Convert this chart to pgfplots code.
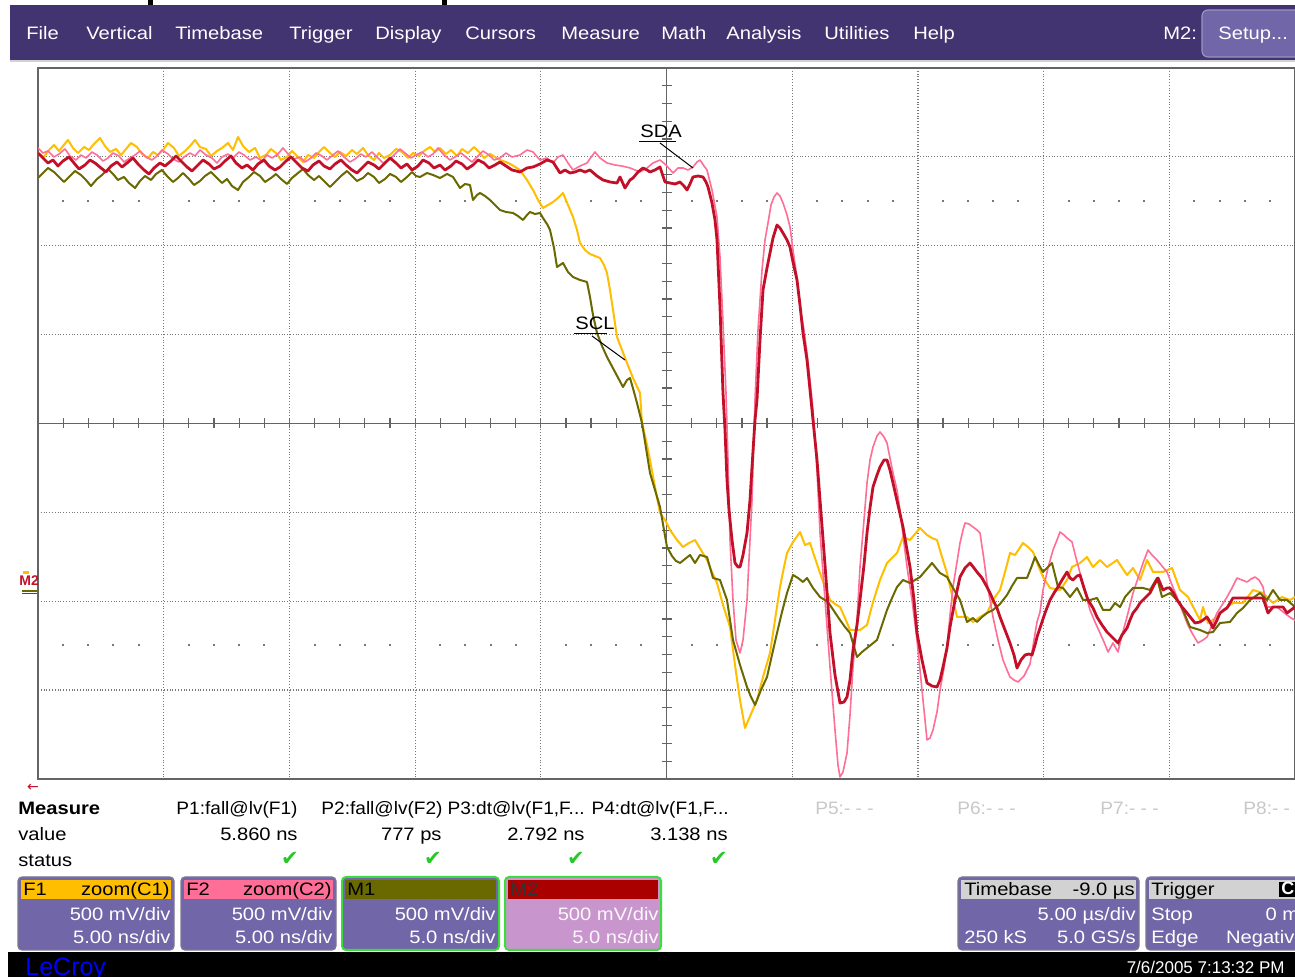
\documentclass[border=0pt]{standalone}
\usepackage{pgfplots}
\pgfplotsset{compat=1.18}
\usepackage{graphicx}
\usepackage{fontspec}
\setmainfont{Liberation Sans}
\newfontfamily\dejavu{DejaVu Sans}
\definecolor{menubar}{RGB}{66,52,112}
\definecolor{btn}{RGB}{112,102,168}
\definecolor{boxbody}{RGB}{112,102,168}
\definecolor{cF1}{RGB}{255,190,0}
\definecolor{cF2}{RGB}{255,110,150}
\definecolor{cM1}{RGB}{105,105,0}
\definecolor{cM2}{RGB}{195,15,40}
\definecolor{hM2}{RGB}{170,0,0}
\definecolor{m2body}{RGB}{200,150,205}
\definecolor{gridc}{RGB}{120,120,120}
\definecolor{framec}{RGB}{100,100,100}
\definecolor{okgreen}{RGB}{40,200,40}
\definecolor{boxgreen}{RGB}{60,220,60}
\definecolor{hdrgrey}{RGB}{210,210,210}
\definecolor{pgrey}{RGB}{200,200,200}
\newcommand\ui{\fontsize{9}{10}\selectfont}
\newcommand\sx[1]{\scalebox{1.12}[1]{#1}}
\newcommand\sxh[1]{\scalebox{1.06}[1]{#1}}
\begin{document}
\begin{tikzpicture}
\useasboundingbox (0,0) rectangle (647.5pt,488.5pt);
\fill[white] (0,0) rectangle (647.5pt,488.5pt);
\begin{scope}[x=0.5pt,y=-0.5pt,yshift=488.5pt, every node/.style={inner sep=0pt, font=\ui}]
 % top strip
 \fill[black] (148,0) rectangle (153,6);
 \fill[black] (442,0) rectangle (447,6);
 \fill[menubar] (10,5) rectangle (1295,60);
 \fill[gray!35] (10,60) rectangle (1295,62);
 \foreach \t/\x in {File/26,Vertical/86,Timebase/175,Trigger/289,Display/375,Cursors/465,Measure/561,Math/661,Analysis/726,Utilities/824,Help/913,M2:/1163}
   \node[anchor=base west, text=white] at (\x,40) {\sx{\t}};
 \draw[fill=btn, draw=btn!70!white, rounded corners=3pt, line width=0.6pt] (1202,10) rectangle (1310,57);
 \node[anchor=base west, text=white] at (1218,40) {\sx{Setup...}};
 % dotted rows at +-2.5 div
 \foreach \i in {1,...,49} {
   \pgfmathtruncatemacro\m{mod(\i,5)}
   \ifnum\m=0\relax\else
     \fill[gridc] ({38+25.14*\i-1},200) rectangle ++(2,2);
     \fill[gridc] ({38+25.14*\i-1},644) rectangle ++(2,2);
   \fi
 }
 % centre cross
 \draw[framec, line width=0.8pt] (38,423.5) -- (1295,423.5);
 \draw[framec, line width=0.8pt] (666.5,68) -- (666.5,779);
 \foreach \i in {1,...,49} \draw[framec, line width=0.6pt] ({38+25.14*\i},418.5) -- ++(0,10);
 \foreach \j in {1,...,39} \draw[framec, line width=0.6pt] (661.5,{68+17.775*\j}) -- ++(10,0);
\end{scope}

\begin{axis}[
  at={(19pt,99pt)}, anchor=south west,
  scale only axis, width=628.5pt, height=355.5pt,
  xmin=38, xmax=1295, ymin=68, ymax=779, y dir=reverse,
  xtick={163.7,289.4,415.1,540.8,792.2,917.9,1043.6,1169.3},
  ytick={156.9,245.75,334.6,512.4,601.25,690.1},
  xticklabels={}, yticklabels={}, major tick length=0pt,
  grid=major, major grid style={densely dotted, gridc, line width=0.6pt},
  axis line style={draw=framec, line width=1pt},
  clip=true,
]
% F1 (yellow)
\addplot[cF1, line width=1pt, line join=round] coordinates {(38,153)(44,157)(49,150)(54,145)(59,151)(63,146)(68,140)(73,148)(78,153)(84,147)(89,150)(94,144)(100,138)(105,146)(110,152)(116,149)(121,155)(126,149)(131,143)(137,147)(142,154)(148,158)(153,152)(158,155)(163,150)(168,143)(174,148)(179,156)(185,151)(190,146)(195,140)(200,147)(206,149)(211,156)(217,151)(222,148)(228,143)(233,150)(238,137)(243,146)(249,152)(255,148)(260,158)(266,155)(271,149)(276,153)(281,160)(287,157)(292,151)(298,157)(303,162)(308,155)(314,158)(319,152)(324,147)(330,153)(335,157)(340,152)(346,156)(352,150)(357,154)(363,148)(368,155)(374,160)(379,153)(384,158)(390,155)(396,149)(402,152)(408,158)(413,153)(419,156)(424,151)(430,147)(435,152)(440,148)(446,154)(451,150)(457,156)(462,149)(468,153)(474,147)(479,152)(484,158)(490,154)(495,157)(500,160)(506,162)(512,165)(520,170)(527,180)(533,190)(538,200)(543,208)(548,205)(553,202)(558,198)(563,193)(568,205)(573,217)(577,230)(580,243)(585,250)(590,254)(595,256)(600,258)(604,265)(607,273)(610,290)(613,310)(617,337)(622,350)(627,363)(633,378)(640,393)(642,423)(646,440)(650,460)(655,487)(660,513)(665,520)(670,530)(677,540)(683,547)(689,543)(695,540)(701,550)(707,560)(712,572)(717,583)(723,605)(730,627)(735,665)(740,700)(745,728)(751,714)(757,700)(763,677)(770,653)(775,620)(780,587)(784,567)(787,553)(793,542)(800,532)(805,545)(810,543)(815,558)(820,573)(825,587)(830,600)(835,604)(840,607)(845,618)(850,630)(855,630)(860,630)(867,625)(873,602)(880,580)(887,563)(892,558)(897,553)(903,537)(910,540)(915,534)(920,528)(927,535)(932,538)(937,540)(942,557)(947,573)(952,595)(957,617)(962,617)(967,617)(973,622)(980,617)(987,613)(993,600)(1000,590)(1005,572)(1010,553)(1015,555)(1019,549)(1023,543)(1028,547)(1033,552)(1038,565)(1043,577)(1050,588)(1060,590)(1067,580)(1072,567)(1080,563)(1087,557)(1093,567)(1100,560)(1107,567)(1117,560)(1127,575)(1133,568)(1140,580)(1147,560)(1153,572)(1163,572)(1172,568)(1180,590)(1188,597)(1200,620)(1203,607)(1208,623)(1217,617)(1223,610)(1233,603)(1243,603)(1253,590)(1263,593)(1273,603)(1282,597)(1290,600)(1295,597)};
% F2 (pink)
\addplot[cF2, line width=0.8pt, line join=round] coordinates {(38,148)(43,153)(48,151)(54,157)(59,154)(65,149)(70,156)(76,160)(81,155)(86,158)(92,152)(97,155)(103,161)(108,158)(113,153)(119,156)(124,162)(130,158)(135,155)(140,151)(146,157)(152,160)(157,156)(162,150)(168,154)(173,159)(179,162)(184,157)(190,153)(195,156)(200,150)(206,155)(212,158)(217,163)(222,157)(228,154)(233,158)(239,152)(244,155)(250,160)(256,157)(262,161)(267,155)(272,158)(278,154)(283,148)(289,155)(294,159)(300,157)(305,162)(311,158)(316,153)(322,156)(327,160)(333,155)(338,151)(344,157)(350,162)(355,159)(361,154)(366,157)(372,152)(378,158)(383,163)(389,160)(394,155)(400,149)(405,153)(411,158)(416,155)(422,152)(428,157)(433,154)(438,148)(444,155)(450,160)(455,157)(461,153)(467,158)(472,162)(478,156)(483,151)(489,155)(494,160)(500,158)(506,153)(512,157)(520,155)(527,150)(533,152)(540,160)(547,158)(553,163)(558,157)(563,155)(568,163)(573,170)(580,166)(587,163)(592,156)(595,152)(600,158)(607,163)(615,165)(622,166)(630,168)(635,170)(640,172)(647,168)(653,163)(660,160)(666,165)(673,173)(678,168)(683,168)(688,170)(693,167)(697,162)(700,160)(704,166)(707,170)(712,190)(717,217)(720,257)(723,323)(726,393)(728,460)(730,540)(733,600)(736,640)(740,653)(743,640)(747,600)(750,540)(752,500)(755,400)(758,330)(762,270)(765,240)(768,223)(771,205)(774,197)(777,193)(780,196)(783,203)(787,215)(790,227)(793,250)(797,278)(800,307)(804,330)(807,353)(810,380)(813,410)(817,470)(820,533)(825,600)(830,667)(835,730)(838,765)(840,777)(843,772)(847,753)(850,715)(853,667)(857,620)(860,567)(864,520)(867,483)(870,460)(873,447)(877,436)(880,432)(884,437)(887,443)(890,458)(893,473)(897,490)(900,510)(903,535)(907,567)(912,600)(917,640)(922,690)(927,740)(930,738)(933,730)(937,712)(940,690)(944,668)(947,647)(950,615)(953,587)(957,562)(960,543)(963,530)(965,523)(969,524)(973,527)(977,530)(980,533)(984,560)(987,583)(990,600)(993,617)(998,640)(1003,660)(1007,670)(1010,677)(1014,680)(1018,682)(1024,676)(1030,664)(1034,640)(1037,622)(1040,612)(1043,590)(1048,568)(1053,550)(1057,540)(1060,532)(1064,535)(1067,538)(1072,542)(1076,558)(1080,573)(1085,592)(1090,610)(1095,622)(1100,633)(1104,642)(1108,652)(1113,643)(1118,652)(1122,635)(1127,617)(1130,605)(1133,593)(1138,578)(1143,563)(1148,550)(1152,555)(1157,560)(1162,566)(1167,572)(1172,585)(1177,597)(1182,610)(1187,623)(1192,633)(1198,643)(1203,640)(1207,637)(1212,625)(1217,613)(1222,605)(1227,597)(1232,588)(1237,578)(1242,580)(1247,582)(1251,579)(1255,577)(1259,580)(1263,587)(1267,607)(1272,607)(1277,607)(1282,611)(1287,615)(1291,618)(1295,620)};
% M1 (olive)
\addplot[cM1, line width=1pt, line join=round] coordinates {(38,178)(43,173)(48,168)(54,172)(59,177)(64,182)(70,176)(75,171)(81,175)(86,180)(91,186)(97,179)(102,175)(108,169)(113,174)(118,180)(124,177)(129,183)(135,188)(140,181)(145,176)(151,180)(156,174)(162,170)(167,176)(173,182)(178,178)(183,173)(189,179)(194,185)(200,181)(205,176)(211,172)(216,177)(222,183)(227,179)(232,186)(238,190)(243,182)(249,177)(254,172)(260,176)(265,182)(271,178)(276,174)(281,179)(287,184)(292,178)(298,173)(303,169)(308,175)(314,180)(319,176)(325,182)(330,187)(336,181)(341,176)(347,171)(352,176)(357,181)(363,178)(368,173)(374,177)(379,183)(385,179)(390,174)(396,177)(401,182)(407,177)(412,172)(416,176)(420,177)(427,173)(433,175)(440,178)(447,174)(453,177)(460,188)(465,184)(470,185)(473,200)(477,195)(480,193)(485,196)(490,200)(495,205)(500,210)(506,212)(513,213)(518,216)(523,220)(527,215)(530,212)(535,214)(540,213)(543,218)(547,224)(550,230)(554,248)(557,267)(560,265)(563,263)(568,272)(573,277)(580,280)(587,282)(590,297)(593,315)(597,333)(602,346)(607,357)(615,372)(623,387)(627,380)(630,378)(634,392)(637,403)(642,423)(646,448)(650,473)(655,490)(660,507)(664,530)(667,547)(672,556)(676,561)(680,563)(685,559)(690,555)(695,563)(700,555)(707,557)(713,578)(720,580)(727,600)(733,640)(740,665)(747,687)(751,697)(755,705)(761,690)(767,677)(772,655)(777,633)(782,612)(787,593)(793,575)(798,578)(803,582)(807,578)(813,588)(820,597)(828,602)(834,611)(840,620)(845,627)(850,633)(857,657)(862,652)(867,648)(872,644)(877,640)(882,625)(887,610)(892,598)(897,587)(903,580)(910,583)(915,580)(920,577)(926,570)(932,563)(936,568)(940,573)(947,577)(953,588)(960,600)(967,622)(973,618)(977,622)(982,617)(987,613)(993,610)(1000,604)(1007,595)(1012,586)(1017,578)(1022,578)(1027,578)(1031,568)(1035,557)(1039,565)(1043,572)(1047,568)(1052,563)(1058,587)(1063,588)(1070,597)(1077,588)(1083,600)(1090,600)(1097,598)(1103,610)(1110,610)(1115,603)(1120,607)(1125,597)(1133,588)(1143,588)(1150,590)(1157,578)(1162,597)(1170,593)(1180,603)(1185,615)(1190,627)(1200,630)(1207,633)(1213,632)(1220,623)(1230,622)(1237,613)(1243,608)(1250,600)(1260,593)(1267,600)(1273,590)(1280,600)(1287,600)(1295,607)};
% M2 (red)
\addplot[cM2, line width=1.4pt, line join=round] coordinates {(38,153)(43,158)(48,163)(53,160)(58,166)(63,161)(69,157)(74,163)(79,169)(85,165)(90,160)(95,163)(101,168)(106,172)(111,166)(117,162)(122,167)(127,163)(133,158)(138,164)(144,170)(149,174)(154,168)(160,163)(165,166)(171,161)(176,156)(182,162)(187,167)(192,171)(198,165)(203,160)(209,164)(214,169)(220,166)(225,161)(231,156)(236,163)(242,168)(247,165)(253,170)(258,164)(264,160)(269,166)(275,170)(280,167)(286,161)(291,157)(297,163)(302,168)(308,171)(313,165)(319,161)(324,166)(330,169)(335,164)(341,160)(346,165)(352,170)(357,173)(363,167)(368,162)(374,165)(379,169)(385,163)(390,158)(396,163)(401,168)(407,164)(412,170)(418,166)(423,160)(429,163)(434,168)(440,165)(445,170)(451,166)(456,161)(462,164)(467,169)(473,165)(478,160)(484,163)(489,168)(495,165)(500,162)(506,166)(512,170)(520,172)(527,168)(533,167)(540,164)(547,160)(553,162)(560,173)(565,170)(570,173)(575,172)(580,170)(585,172)(590,170)(597,176)(603,180)(610,182)(617,183)(620,177)(625,188)(630,180)(633,178)(638,172)(643,168)(647,170)(650,172)(655,170)(660,167)(665,182)(670,183)(675,184)(680,182)(684,186)(687,190)(690,184)(693,177)(698,176)(703,177)(706,182)(708,187)(712,203)(715,220)(717,240)(720,307)(723,393)(725,430)(727,480)(729,510)(732,540)(735,563)(738,567)(740,567)(743,555)(747,533)(750,500)(752,467)(755,420)(757,400)(760,340)(763,290)(767,268)(770,253)(773,238)(777,225)(780,228)(783,233)(787,240)(790,247)(793,262)(797,280)(800,305)(803,333)(807,360)(810,390)(813,420)(817,460)(820,500)(825,565)(830,633)(835,675)(840,703)(844,702)(847,697)(850,680)(853,650)(857,625)(860,600)(864,565)(867,533)(870,508)(873,487)(877,475)(880,467)(884,460)(887,460)(890,470)(893,483)(898,505)(903,527)(907,550)(910,567)(914,600)(917,633)(922,660)(927,683)(932,686)(937,687)(940,680)(943,667)(947,648)(950,627)(955,600)(960,577)(965,568)(970,563)(974,568)(977,572)(982,578)(987,587)(990,593)(993,600)(997,608)(1000,617)(1005,630)(1010,643)(1014,655)(1017,668)(1021,660)(1025,655)(1029,654)(1032,655)(1035,645)(1037,637)(1041,625)(1045,613)(1050,600)(1054,593)(1058,587)(1062,580)(1067,572)(1070,578)(1073,580)(1077,576)(1080,575)(1084,588)(1088,600)(1093,608)(1097,617)(1102,625)(1107,632)(1112,637)(1118,643)(1122,635)(1127,628)(1130,620)(1133,613)(1137,608)(1140,603)(1145,598)(1150,593)(1154,585)(1158,578)(1163,590)(1167,588)(1170,588)(1174,594)(1177,600)(1182,607)(1187,613)(1191,618)(1195,623)(1200,622)(1203,620)(1207,617)(1210,622)(1213,628)(1217,620)(1220,613)(1224,610)(1227,608)(1230,603)(1233,598)(1247,598)(1263,598)(1268,613)(1273,607)(1283,607)(1287,613)(1295,607)};
\end{axis}

\begin{scope}[x=0.5pt,y=-0.5pt,yshift=488.5pt, every node/.style={inner sep=0pt, font=\ui}]
 % annotations
 \node[anchor=base west] at (640,138) {\sx{SDA}};
 \draw[black, line width=0.6pt] (639,141.5) -- (676,141.5);
 \draw[black, line width=0.5pt] (660,143) -- (693,168);
 \node[anchor=base west] at (575,330) {\sx{SCL}};
 \draw[black, line width=0.6pt] (574,333.5) -- (607,333.5);
 \draw[black, line width=0.5pt] (592,336) -- (625,360);
 % left ground marker
 \node[anchor=base west, text=cM2, font=\bfseries\fontsize{7}{7}\selectfont] at (19,586) {M2};
 \fill[cF1] (23,571) rectangle (29,574);
 \fill[cM1] (22,590) rectangle (37,592);
 \fill[cM2] (22,593) rectangle (37,594.5);
 % measure area
 \node[anchor=base, text=cM2, font=\dejavu\fontsize{7}{7}\selectfont] at (33,792) {←};
 \node[anchor=base west, font=\ui\bfseries] at (18,815) {\sx{Measure}};
 \node[anchor=base west] at (18,841) {\sx{value}};
 \node[anchor=base west] at (18,867) {\sx{status}};
 \node[anchor=base east] at (298,815) {\sxh{P1:fall@lv(F1)}};
 \node[anchor=base east] at (443,815) {\sxh{P2:fall@lv(F2)}};
 \node[anchor=base east] at (585,815) {\sxh{P3:dt@lv(F1,F...}};
 \node[anchor=base east] at (729,815) {\sxh{P4:dt@lv(F1,F...}};
 \node[anchor=base west, text=pgrey] at (815,815) {\sxh{P5:- - -}};
 \node[anchor=base west, text=pgrey] at (957,815) {\sxh{P6:- - -}};
 \node[anchor=base west, text=pgrey] at (1100,815) {\sxh{P7:- - -}};
 \node[anchor=base west, text=pgrey] at (1243,815) {\sxh{P8:- - -}};
 \node[anchor=base east] at (298,841) {\sx{5.860 ns}};
 \node[anchor=base east] at (442,841) {\sx{777 ps}};
 \node[anchor=base east] at (585,841) {\sx{2.792 ns}};
 \node[anchor=base east] at (728,841) {\sx{3.138 ns}};
 \foreach \x in {290,433,576,719}
   \node[anchor=center, text=okgreen, font=\dejavu\fontsize{10.5}{10.5}\selectfont] at (\x,859) {✔};
 % F1
 \draw[fill=boxbody, draw=gray!70!boxbody, rounded corners=2pt, line width=0.6pt] (18,877) rectangle (174,950);
 \fill[cF1] (21,880) rectangle (171,899);
 \node[anchor=base west] at (23,896) {\sx{F1}};
 \node[anchor=base east] at (170,896) {\sx{zoom(C1)}};
 \node[anchor=base east, text=white] at (171,921) {\sx{500 mV/div}};
 \node[anchor=base east, text=white] at (171,944) {\sx{5.00 ns/div}};
 % F2
 \draw[fill=boxbody, draw=gray!70!boxbody, rounded corners=2pt, line width=0.6pt] (181,877) rectangle (336,950);
 \fill[cF2] (184,880) rectangle (333,899);
 \node[anchor=base west] at (186,896) {\sx{F2}};
 \node[anchor=base east] at (332,896) {\sx{zoom(C2)}};
 \node[anchor=base east, text=white] at (333,921) {\sx{500 mV/div}};
 \node[anchor=base east, text=white] at (333,944) {\sx{5.00 ns/div}};
 % M1
 \draw[fill=boxbody, draw=boxgreen, rounded corners=2pt, line width=1pt] (342,877) rectangle (499,950);
 \fill[cM1] (345,880) rectangle (496,899);
 \node[anchor=base west] at (347,896) {\sx{M1}};
 \node[anchor=base east, text=white] at (496,921) {\sx{500 mV/div}};
 \node[anchor=base east, text=white] at (496,944) {\sx{5.0 ns/div}};
 % M2
 \draw[fill=m2body, draw=boxgreen, rounded corners=2pt, line width=1pt] (505,877) rectangle (661,950);
 \fill[hM2] (508,880) rectangle (658,899);
 \node[anchor=base west, text=black!80] at (510,896) {\sx{M2}};
 \node[anchor=base east, text=white!92!m2body] at (659,921) {\sx{500 mV/div}};
 \node[anchor=base east, text=white!92!m2body] at (659,944) {\sx{5.0 ns/div}};
 % Timebase
 \draw[fill=boxbody, draw=gray!70!boxbody, rounded corners=2pt, line width=0.6pt] (958,877) rectangle (1139,950);
 \fill[hdrgrey] (961,880) rectangle (1136,899);
 \node[anchor=base west] at (964,896) {\sx{Timebase}};
 \node[anchor=base east] at (1135,896) {\sx{-9.0 µs}};
 \node[anchor=base east, text=white] at (1136,921) {\sx{5.00 µs/div}};
 \node[anchor=base west, text=white] at (964,944) {\sx{250 kS}};
 \node[anchor=base east, text=white] at (1136,944) {\sx{5.0 GS/s}};
 % Trigger
 \draw[fill=boxbody, draw=gray!70!boxbody, rounded corners=2pt, line width=0.6pt] (1146,877) rectangle (1320,950);
 \fill[hdrgrey] (1149,880) rectangle (1317,899);
 \node[anchor=base west] at (1151,896) {\sx{Trigger}};
 \fill[black] (1279,882) rectangle (1300,897);
 \node[anchor=base west, text=white, font=\ui\bfseries] at (1281,895) {C1};
 \node[anchor=base west, text=white] at (1151,921) {\sx{Stop}};
 \node[anchor=base east, text=white] at (1313,921) {\sx{0 mV}};
 \node[anchor=base west, text=white] at (1151,944) {\sx{Edge}};
 \node[anchor=base east, text=white] at (1306,944) {\sx{Negative}};
 % bottom bar
 \fill[black] (8,952) rectangle (1295,977);
 \node[anchor=base west, text=blue, font=\fontsize{12.5}{14}\selectfont] at (25,976) {LeCroy};
 \node[anchor=base east, text=white, font=\fontsize{8.5}{10}\selectfont] at (1285,974) {7/6/2005 7:13:32 PM};
\end{scope}
\end{tikzpicture}
\end{document}
